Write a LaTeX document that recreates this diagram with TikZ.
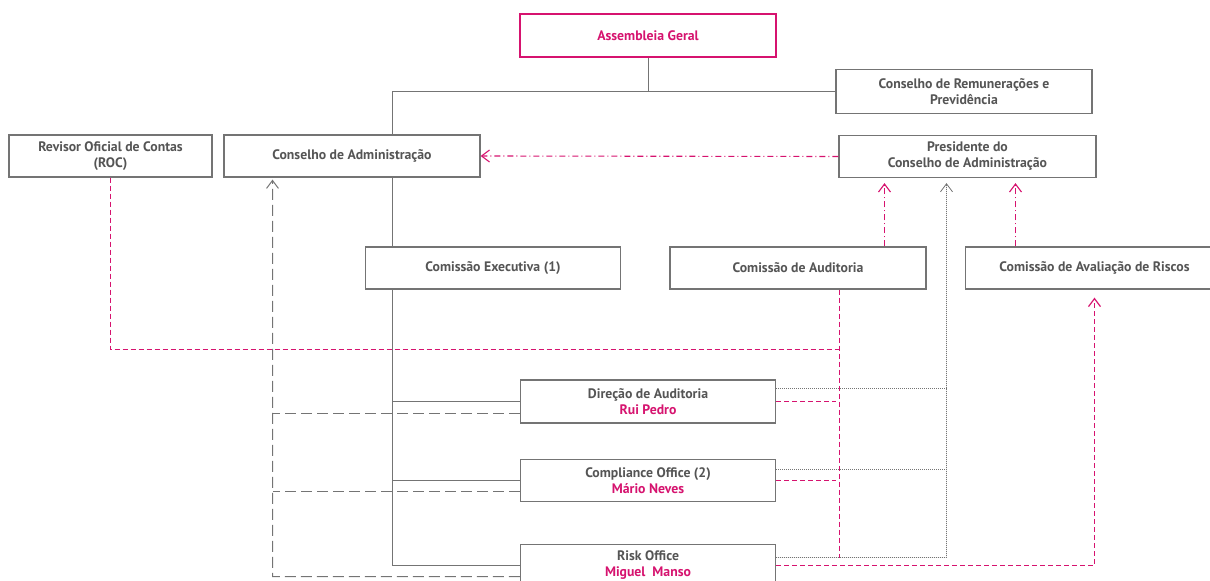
\documentclass[tikz,border=0pt]{standalone}
\usepackage{fontspec}
\setmainfont{PT Sans}[BoldFont={PT Sans Bold}]
\usepackage{xcolor}
\usepackage{tikz}
\usetikzlibrary{arrows.meta,positioning}

\definecolor{boxgray}{HTML}{747474}
\definecolor{textgray}{HTML}{555555}
\definecolor{orgpink}{HTML}{D6136F}

\tikzset{
    orgbox/.style={
        draw=boxgray,
        fill=white,
        line width=1.2bp,
        minimum width=256bp,
        minimum height=42bp,
        inner sep=2bp,
        align=center,
        text=textgray,
        font=\bfseries\fontsize{13.8}{16}\selectfont
    },
    orgline/.style={
        draw=boxgray,
        line width=1bp
    },
    pinkdash/.style={
        draw=orgpink,
        line width=1.2bp,
        dash pattern=on 5bp off 3bp
    },
    pinkdashdot/.style={
        draw=orgpink,
        line width=1.1bp,
        dash pattern=on 6bp off 3bp on 1bp off 3bp
    },
    graydash/.style={
        draw=boxgray,
        line width=1bp,
        dash pattern=on 11bp off 5bp
    },
    graydot/.style={
        draw=boxgray,
        line width=0.8bp,
        dash pattern=on 1bp off 1bp
    },
    openarrow/.style={
        -{Straight Barb[length=8bp,width=12bp]}
    }
}

\begin{document}
\begin{tikzpicture}[x=1bp,y=-1bp]
                \useasboundingbox (0,0) rectangle (1210,581);

                % top level
                \node[orgbox, draw=orgpink, text=orgpink, minimum height=43bp] (assembleia) at (648,35.5) {Assembleia Geral};
                \node[orgbox, minimum height=44bp] (remuneracoes) at (964,91.5) {Conselho de Remunerações e\\Previdência};

                % board row
                \node[orgbox, minimum width=203bp] (roc) at (110.5,156) {Revisor Oficial de Contas\\(ROC)};
                \node[orgbox] (cadmin) at (352,156) {Conselho de Administração};
                \node[orgbox, minimum width=257bp] (presidente) at (967.5,156.5) {Presidente do\\Conselho de Administração};

                % committees
                \node[orgbox, minimum width=255bp] (cexec) at (493,268) {Comissão Executiva (1)};
                \node[orgbox] (caud) at (798,268) {Comissão de Auditoria};
                \node[orgbox, minimum width=258bp] (criscos) at (1094.5,268) {Comissão de Avaliação de Riscos};

                % control functions
                \node[orgbox, minimum width=255bp, minimum height=43bp] (direcao) at (648,401.5) {Direção de Auditoria\\\textcolor{orgpink}{Rui Pedro}};
                \node[orgbox, minimum width=255bp] (compliance) at (648,480.5) {Compliance Office (2)\\\textcolor{orgpink}{Mário Neves}};
                \node[orgbox, minimum width=255bp] (risk) at (648,565.5) {Risk Office\\\textcolor{orgpink}{Miguel~~Manso}};

                % hierarchy lines
                \coordinate (spine) at (392.5,91.5);
                \draw[orgline] (assembleia.south) -- (assembleia.south |- spine);
                \draw[orgline] (remuneracoes.west) -- (spine) -- (spine |- cadmin.north);
                \draw[orgline] (spine |- cadmin.south) -- (spine |- cexec.north);
                \draw[orgline] (spine |- cexec.south) -- (spine |- risk.west) -- (risk.west);
                \draw[orgline] (spine |- direcao.west) -- (direcao.west);
                \draw[orgline] (spine |- compliance.west) -- (compliance.west);

                % presidente -> conselho
                \draw[pinkdashdot, openarrow] (presidente.west) -- (cadmin.east);

                % committees -> presidente
                \draw[pinkdashdot, openarrow, shorten >=5bp] ([xshift=86.5bp]caud.north) -- ([xshift=86.5bp]caud.north |- presidente.south);
                \draw[pinkdashdot, openarrow, shorten >=5bp] ([xshift=-79bp]criscos.north) -- ([xshift=-79bp]criscos.north |- presidente.south);

                % auditoria / ROC lines
                \coordinate (audbus) at (839.5,349.5);
                \draw[pinkdash] (roc.south) -- (roc.south |- audbus) -- (audbus);
                \draw[pinkdash] (caud.south -| audbus) -- ([yshift=8bp]risk.east -| audbus);
                \draw[pinkdash, shorten >=4bp] (direcao.east) -- (direcao.east -| audbus);
                \draw[pinkdash, shorten >=4bp] (compliance.east) -- (compliance.east -| audbus);

                % risk office -> avaliacao de riscos
                \draw[pinkdash, openarrow, shorten >=8bp] (risk.east) -- (risk.east -| criscos.south) -- (criscos.south);

                % dotted lines to presidente
                \coordinate (presbus) at (946.5,557.5);
                \draw[graydot] ([yshift=13.5bp]direcao.east) -- ([yshift=13.5bp]direcao.east -| presbus);
                \draw[graydot] ([yshift=11bp]compliance.east) -- ([yshift=11bp]compliance.east -| presbus);
                \draw[graydot, openarrow, shorten >=5bp] ([yshift=8bp]risk.east) -- (presbus) -- (presbus |- presidente.south);

                % dashed lines to conselho
                \coordinate (cadbus) at (272.5,576.5);
                \draw[graydash] ([yshift=-11.5bp]direcao.west) -- ([yshift=-11.5bp]direcao.west -| cadbus);
                \draw[graydash] ([yshift=-11bp]compliance.west) -- ([yshift=-11bp]compliance.west -| cadbus);
                \draw[graydash, openarrow, shorten >=2bp] ([yshift=-11bp]risk.west) -- (cadbus) -- (cadbus |- cadmin.south);
\end{tikzpicture}
\end{document}
